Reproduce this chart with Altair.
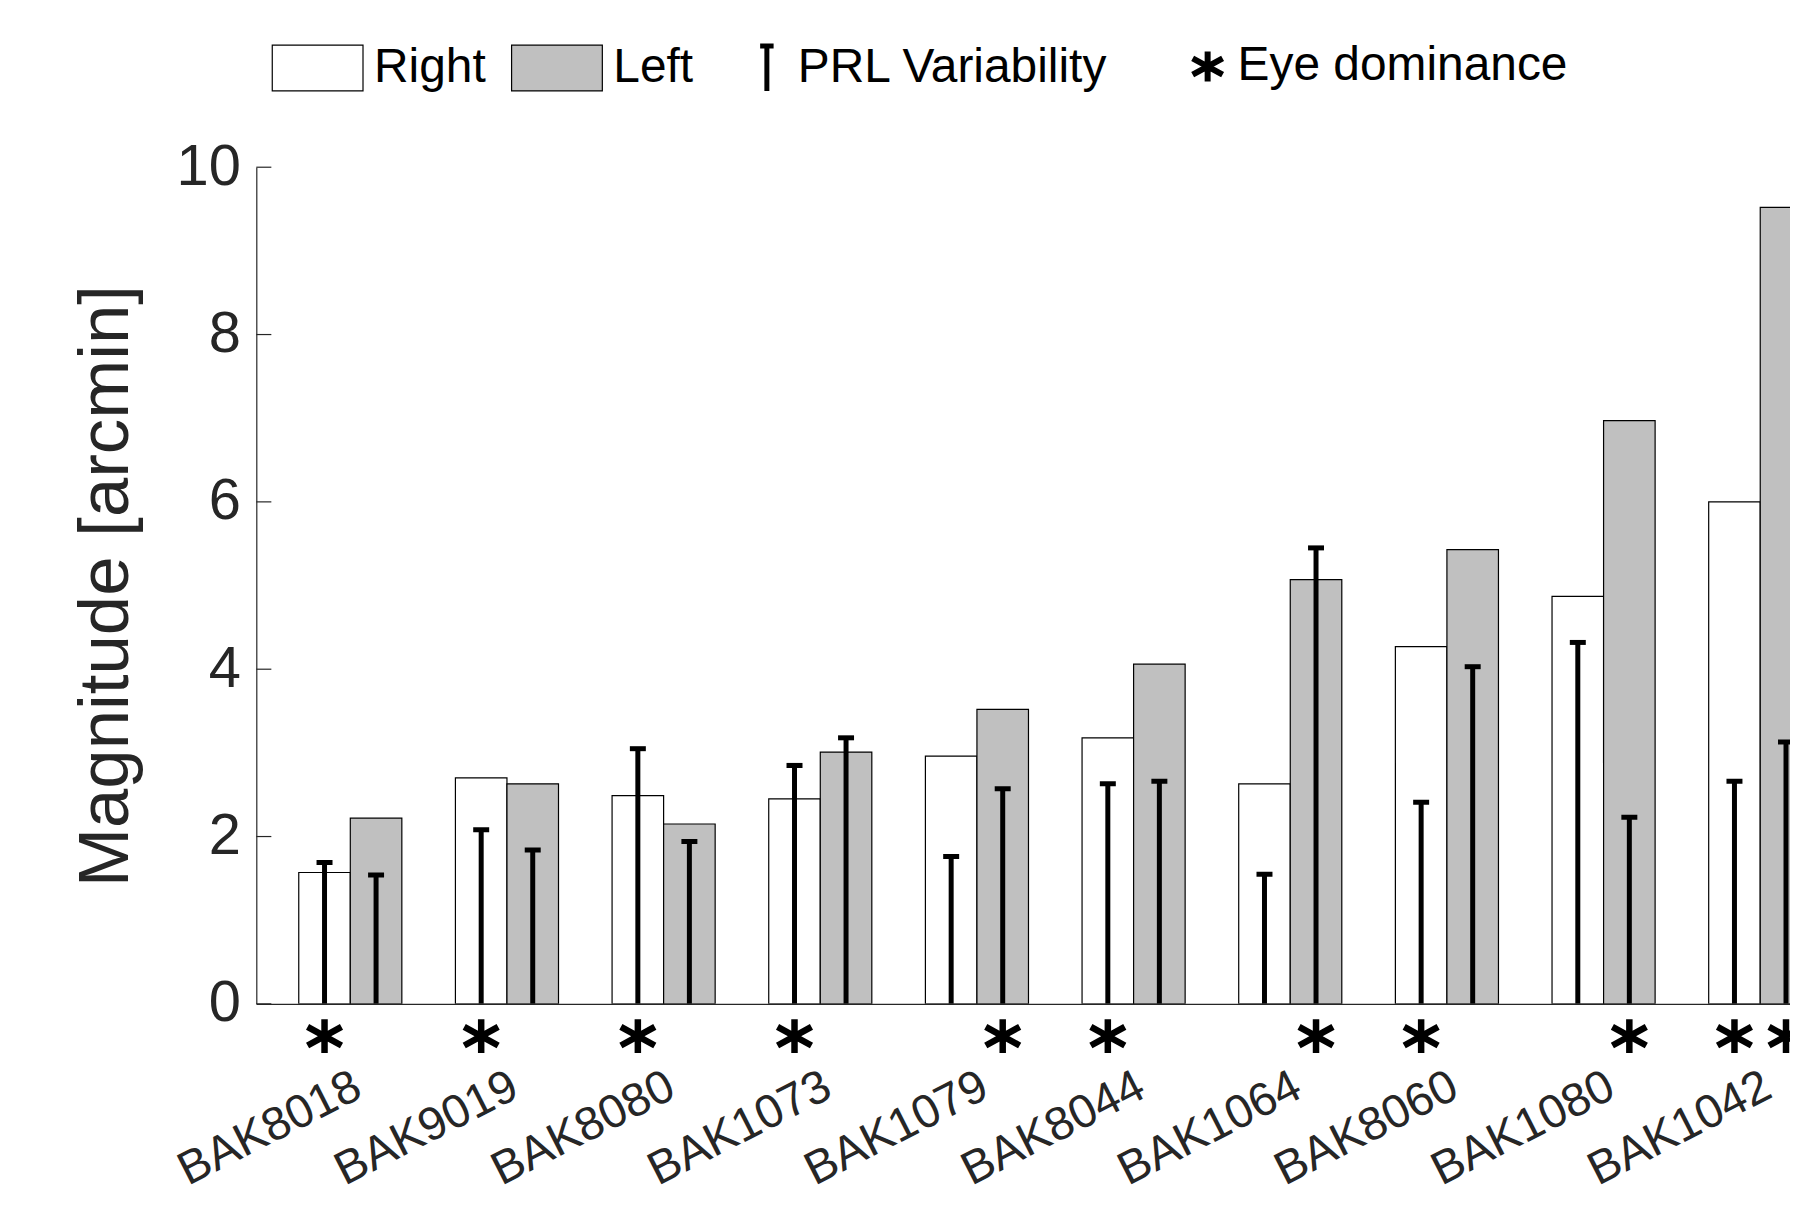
import json
import altair as alt
import pandas as pd

# ---- data ----
SUBJECTS = ["BAK8018", "BAK9019", "BAK8080", "BAK1073", "BAK1079",
            "BAK8044", "BAK1064", "BAK8060", "BAK1080", "BAK1042"]
RIGHT = [1.57, 2.70, 2.49, 2.45, 2.96, 3.18, 2.63, 4.27, 4.87, 6.00]
LEFT = [2.22, 2.63, 2.15, 3.01, 3.52, 4.06, 5.07, 5.43, 6.97, 9.52]
PRL_RIGHT = [1.69, 2.08, 3.05, 2.85, 1.76, 2.63, 1.55, 2.41, 4.32, 2.66]
PRL_LEFT = [1.54, 1.84, 1.94, 3.18, 2.57, 2.66, 5.45, 4.03, 2.23, 3.13]
DOMINANT = ["Right", "Right", "Right", "Right", "Left",
            "Right", "Left", "Right", "Left", "Both"]
Y_TICKS = [0, 2, 4, 6, 8, 10]

# ---- layout / style ----
FONT = "Liberation Sans"
AXIS_COLOR = "#262626"
GREY = "#c0c0c0"
X_MIN, X_MAX = 0.4, 10.19
BW = 0.329          # bar width (data units)
CAP = 0.102         # error-bar cap width (data units)
TICK_LEN = 0.096    # inward y tick length (data units)
AST_Y = -0.386      # asterisk row, just below the axis
ASTERISK = "M0,-1V1M-1,-0.55L1,0.55M-1,0.55L1,-0.55"
RECT = "M-1,-0.505H1V0.505H-1Z"
TEE = "M0,-1V1M-0.3,-1H0.3"
LEG_FS = 48

rows = []
for i, s in enumerate(SUBJECTS):
    for eye, val, prl in (("Right", RIGHT[i], PRL_RIGHT[i]), ("Left", LEFT[i], PRL_LEFT[i])):
        rows.append({
            "subject": s, "idx": i + 1, "eye": eye, "value": val, "prl": prl,
            "dominant": DOMINANT[i] in (eye, "Both"),
        })
df = pd.DataFrame(rows)
ticks_df = pd.DataFrame({"tick": Y_TICKS})

label_expr = json.dumps(SUBJECTS) + "[datum.value - 1]"

XSCALE = alt.Scale(domain=[X_MIN, X_MAX], nice=False, zero=False)
YSCALE = alt.Scale(domain=[0, 10], nice=False)
XAXIS = alt.Axis(
    values=list(range(1, len(SUBJECTS) + 1)), labelExpr=label_expr,
    labelAngle=333, labelAlign="right", labelBaseline="top",
    labelFontSize=47, labelFont=FONT, labelColor=AXIS_COLOR, labelLimit=0,
    labelPadding=59, labelOffset=-3, labelOverlap=False, labelFlush=False,
    ticks=False, grid=False, domainColor=AXIS_COLOR, domainWidth=1.2, title=None,
)
YAXIS = alt.Axis(
    values=Y_TICKS, labelFontSize=58, labelFont=FONT, labelColor=AXIS_COLOR,
    labelPadding=16, ticks=False, grid=False, domainColor=AXIS_COLOR, domainWidth=1.2,
    title="Magnitude [arcmin]", titleFont=FONT, titleFontSize=71,
    titleFontWeight="normal", titleColor=AXIS_COLOR, titlePadding=34, titleLimit=0,
)


def xq(field):
    return alt.X(field, type="quantitative", scale=XSCALE, axis=XAXIS, title=None)


def yq(field):
    return alt.Y(field, type="quantitative", scale=YSCALE, axis=YAXIS)


base = alt.Chart(df).transform_calculate(
    side="datum.eye == 'Right' ? -1 : 1",
).transform_calculate(
    xa=f"datum.idx + (datum.side < 0 ? -{BW} : 0)",
    xb=f"datum.idx + (datum.side < 0 ? 0 : {BW})",
    xc=f"datum.idx + datum.side * {BW / 2}",
).transform_calculate(
    c1=f"datum.xc - {CAP / 2}",
    c2=f"datum.xc + {CAP / 2}",
    errlabel="'PRL Variability'",
    domlabel="'Eye dominance'",
    asty=str(AST_Y),
)

bars = base.mark_rect(stroke="black", strokeWidth=1.2, clip=True).encode(
    x=xq("xa"), x2="xb", y=yq("value"), y2=alt.datum(0),
    fill=alt.Fill("eye:N", scale=alt.Scale(domain=["Right", "Left"], range=["white", GREY]),
                  legend=alt.Legend(
                      orient="none", legendX=15, legendY=-146, direction="horizontal",
                      title=None, symbolType=RECT, symbolSize=8281,
                      symbolStrokeColor="black", symbolStrokeWidth=1.2,
                      labelFont=FONT, labelFontSize=LEG_FS, labelColor="black", labelLimit=0,
                      labelOffset=10, columnPadding=22, padding=0)),
)

ERR_LEGEND = alt.Legend(
    orient="none", legendX=487, legendY=-124, title=None, symbolType=TEE,
    symbolSize=2025, symbolStrokeWidth=5, symbolFillColor="transparent",
    labelFont=FONT, labelFontSize=LEG_FS, labelColor="black", labelLimit=0,
    labelOffset=6, padding=0)
ERR_SCALE = alt.Scale(domain=["PRL Variability"], range=["black"])

err_line = base.mark_rule(strokeWidth=5, clip=True).encode(
    x=xq("xc"), y=yq("prl"), y2=alt.datum(0),
    stroke=alt.Stroke("errlabel:N", scale=ERR_SCALE, legend=ERR_LEGEND),
)
err_cap = base.mark_rule(strokeWidth=5, clip=True).encode(
    x=xq("c1"), x2="c2", y=yq("prl"),
    stroke=alt.Stroke("errlabel:N", scale=ERR_SCALE, legend=ERR_LEGEND),
)

stars = base.transform_filter("datum.dominant").mark_point(
    filled=False, stroke="black", strokeWidth=6.5, size=1156, opacity=1,
).encode(
    x=xq("xc"), y=yq("asty"),
    shape=alt.Shape("domlabel:N", scale=alt.Scale(domain=["Eye dominance"], range=[ASTERISK]),
                    legend=alt.Legend(
                        orient="none", legendX=930, legendY=-125, title=None,
                        symbolSize=900, symbolStrokeColor="black", symbolStrokeWidth=6,
                        symbolFillColor="transparent",
                        labelFont=FONT, labelFontSize=LEG_FS, labelColor="black", labelLimit=0,
                        labelOffset=6, padding=0)),
)

yticks = alt.Chart(ticks_df).transform_calculate(
    t0=str(X_MIN), t1=str(X_MIN + TICK_LEN)
).mark_rule(stroke=AXIS_COLOR, strokeWidth=1.2).encode(
    x=xq("t0"), x2="t1", y=yq("tick"),
)

chart = alt.layer(bars, err_line, err_cap, stars, yticks).properties(
    width=1538, height=839,
    autosize=alt.AutoSizeParams(type="none"),
    padding={"left": 249, "top": 158, "right": 0, "bottom": 188},
    background="white",
).configure_view(stroke=None, strokeWidth=0)

chart.save("out.html", embed_options={"renderer": "svg", "actions": False})
